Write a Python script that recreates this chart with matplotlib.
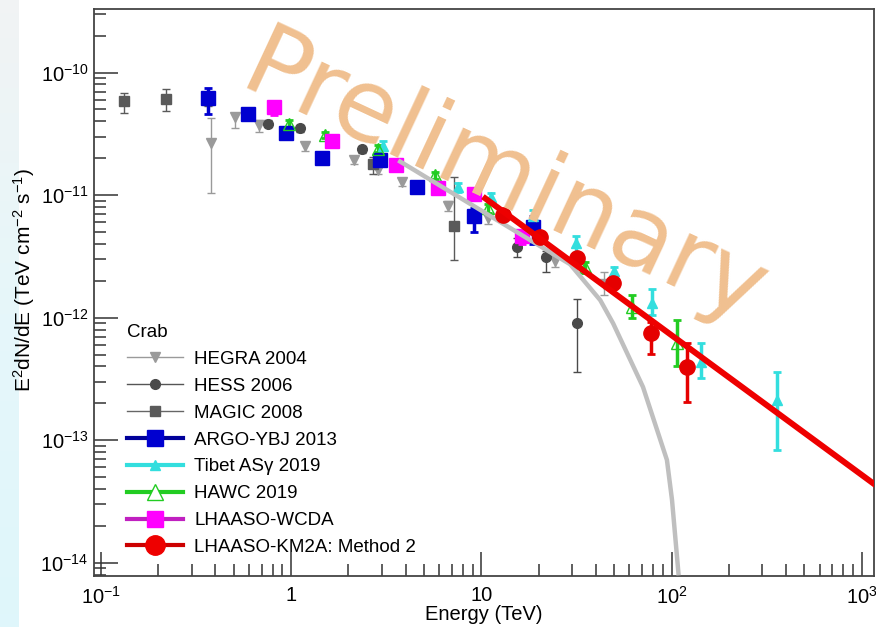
import numpy as np
import matplotlib
matplotlib.use("Agg")
from matplotlib import pyplot as plt
from matplotlib.lines import Line2D
from matplotlib.ticker import LogLocator, NullFormatter
from matplotlib.colors import LinearSegmentedColormap

plt.rcParams['font.family'] = ['Liberation Sans', 'DejaVu Sans']
plt.rcParams['mathtext.fontset'] = 'custom'
plt.rcParams['mathtext.rm'] = 'Liberation Sans'
plt.rcParams['mathtext.it'] = 'Liberation Sans:italic'

# --- data: energy (TeV), E^2dN/dE, lower / upper bound ---
hegra_e = [0.378, 0.505, 0.675, 1.19, 2.13, 2.85, 3.85, 6.7, 10.8, 24.5, 44.0]
hegra_f = [2.64e-11, 4.3e-11, 3.7e-11, 2.5e-11, 1.92e-11, 1.6e-11, 1.27e-11, 8.1e-12, 6.5e-12, 2.9e-12, 1.9e-12]
hegra_lo = [1.05e-11, 3.5e-11, 3.3e-11, 2.3e-11, 1.8e-11, 1.5e-11, 1.18e-11, 7.4e-12, 5.8e-12, 2.6e-12, 1.52e-12]
hegra_hi = [4.22e-11, 4.6e-11, 4.1e-11, 2.7e-11, 2.05e-11, 1.7e-11, 1.36e-11, 8.9e-12, 7.2e-12, 3.2e-12, 2.35e-12]

hess_e = [0.76, 1.11, 2.37, 15.4, 21.9, 31.9]
hess_f = [3.84e-11, 3.5e-11, 2.36e-11, 3.75e-12, 3.1e-12, 9.0e-13]
hess_lo = [3.6e-11, 3.3e-11, 2.2e-11, 3.1e-12, 2.35e-12, 3.6e-13]
hess_hi = [4.1e-11, 3.7e-11, 2.5e-11, 4.5e-12, 3.5e-12, 1.41e-12]

magic_e = [0.132, 0.219, 0.365, 2.68, 7.2]
magic_f = [5.9e-11, 6.1e-11, 6.0e-11, 1.81e-11, 5.6e-12]
magic_lo = [4.72e-11, 4.9e-11, 5.3e-11, 1.5e-11, 2.94e-12]
magic_hi = [6.87e-11, 7.4e-11, 6.7e-11, 2.03e-11, 1.40e-11]

argo_e = [0.365, 0.59, 0.935, 1.46, 2.95, 4.6, 9.1, 18.8]
argo_f = [6.25e-11, 4.6e-11, 3.2e-11, 2.0e-11, 1.92e-11, 1.16e-11, 6.7e-12, 5.5e-12]
argo_lo = [4.6e-11, 4.1e-11, 2.9e-11, 1.8e-11, 1.75e-11, 1.05e-11, 5.0e-12, 4.0e-12]
argo_hi = [7.5e-11, 5.0e-11, 3.5e-11, 2.2e-11, 2.1e-11, 1.28e-11, 7.9e-12, 6.8e-12]

tibet_e = [3.06, 7.57, 11.2, 18.7, 31.5, 49.9, 79.0, 143.0, 358.0]
tibet_f = [2.54e-11, 1.16e-11, 9.6e-12, 6.8e-12, 4.05e-12, 2.4e-12, 1.32e-12, 4.36e-13, 2.13e-13]
tibet_lo = [2.35e-11, 1.07e-11, 8.8e-12, 6.2e-12, 3.4e-12, 1.95e-12, 1.05e-12, 3.2e-13, 8.3e-14]
tibet_hi = [2.75e-11, 1.26e-11, 1.05e-11, 7.5e-12, 4.6e-12, 2.57e-12, 1.71e-12, 6.2e-13, 3.6e-13]

hawc_e = [0.97, 1.5, 2.85, 5.74, 10.9, 35.2, 62.0, 107.0]
hawc_f = [3.84e-11, 3.07e-11, 2.4e-11, 1.45e-11, 7.8e-12, 2.58e-12, 1.22e-12, 6.2e-13]
hawc_lo = [3.6e-11, 2.9e-11, 2.25e-11, 1.36e-11, 7.2e-12, 2.3e-12, 9.9e-13, 4.0e-13]
hawc_hi = [4.1e-11, 3.25e-11, 2.55e-11, 1.55e-11, 8.4e-12, 2.85e-12, 1.52e-12, 9.5e-13]

wcda_e = [0.81, 1.65, 3.54, 5.95, 9.1, 16.4]
wcda_f = [5.28e-11, 2.79e-11, 1.75e-11, 1.14e-11, 1.03e-11, 4.6e-12]
wcda_lo = [4.5e-11, 2.55e-11, 1.6e-11, 1.02e-11, 9.2e-12, 4.0e-12]
wcda_hi = [5.9e-11, 3.05e-11, 1.9e-11, 1.26e-11, 1.15e-11, 5.2e-12]

km2a_e = [13.0, 20.4, 31.9, 49.3, 78.0, 120.0]
km2a_f = [6.84e-12, 4.53e-12, 3.05e-12, 1.91e-12, 7.5e-13, 3.95e-13]
km2a_lo = [6.4e-12, 4.2e-12, 2.8e-12, 1.72e-12, 5.1e-13, 2.05e-13]
km2a_hi = [7.3e-12, 4.9e-12, 3.3e-12, 2.1e-12, 9.2e-13, 6.2e-13]

# fit curves
km2a_fit_e = [10.5, 1160.0]
km2a_fit_f = [9.4e-12, 4.4e-14]
curve_e = [3.66, 29.3, 42.2, 49.3, 70.8, 94.6, 100.6, 109.0]
curve_f = [1.92e-11, 2.73e-12, 1.39e-12, 9.0e-13, 2.72e-13, 6.9e-14, 3.26e-14, 7.9e-15]

xticks = [0.1, 1, 10, 100, 1000]
xticklabels = ['$10^{-1}$', '1', '10', '$10^{2}$', '$10^{3}$']
yticks = [1e-14, 1e-13, 1e-12, 1e-11, 1e-10]
yticklabels = ['$10^{-14}$', '$10^{-13}$', '$10^{-12}$', '$10^{-11}$', '$10^{-10}$']

fig = plt.figure(figsize=(8.76, 6.27), dpi=100)

# light blue strip on the left edge of the screenshot
strip = fig.add_axes([0, 0, 0.021, 1])
cmap = LinearSegmentedColormap.from_list('strip', ['#dff6fb', '#e6f7fa', '#f1f3f4'])
strip.imshow(np.linspace(0, 1, 50).reshape(-1, 1), aspect='auto', cmap=cmap, origin='lower')
strip.axis('off')

ax = fig.add_axes([0.1073, 0.0813, 0.8904, 0.9043])


def draw(e, f, lo, hi, color, marker, ms, elw, lw_cap, mfc=None, zorder=3, mec=None):
    f = np.array(f)
    yerr = [f - np.array(lo), np.array(hi) - f]
    ax.errorbar(e, f, yerr=yerr, fmt=marker, color=color, ms=ms,
                mfc=mfc if mfc else color, mec=mec if mec else color,
                ecolor=color, elinewidth=elw, capsize=3, capthick=lw_cap,
                zorder=zorder)


draw(hegra_e, hegra_f, hegra_lo, hegra_hi, '#9a9a9a', 'v', 7, 1.0, 1.0)
draw(hess_e, hess_f, hess_lo, hess_hi, '#4a4a4a', 'o', 7, 1.0, 1.0)
draw(magic_e, magic_f, magic_lo, magic_hi, '#5a5a5a', 's', 6.5, 1.0, 1.0)
draw(argo_e, argo_f, argo_lo, argo_hi, '#0000d0', 's', 10, 2.5, 2.0, zorder=4)
draw(tibet_e, tibet_f, tibet_lo, tibet_hi, '#33dede', '^', 7, 2.5, 2.0, zorder=4)
draw(hawc_e, hawc_f, hawc_lo, hawc_hi, '#22cc22', '^', 9, 2.5, 2.0, mfc='none', zorder=4)
draw(wcda_e, wcda_f, wcda_lo, wcda_hi, '#ff00ff', 's', 10, 2.5, 2.0, zorder=4)

ax.plot(curve_e, curve_f, color='#bfbfbf', lw=3.2, zorder=5, solid_capstyle='butt')
draw(km2a_e, km2a_f, km2a_lo, km2a_hi, '#e50000', 'o', 11, 2.5, 2.0, zorder=6)
ax.plot(km2a_fit_e, km2a_fit_f, color='#ee0000', lw=4.3, zorder=7)

ax.set_xscale('log')
ax.set_yscale('log')
ax.set_xlim(0.092, 1160)
ax.set_ylim(7.8e-15, 3.3e-10)

ax.set_xticks(xticks, labels=xticklabels)
ax.set_yticks(yticks, labels=yticklabels)
ax.xaxis.set_minor_locator(LogLocator(base=10, subs=np.arange(2, 10)))
ax.yaxis.set_minor_locator(LogLocator(base=10, subs=np.arange(2, 10), numticks=20))
ax.xaxis.set_minor_formatter(NullFormatter())
ax.yaxis.set_minor_formatter(NullFormatter())
ax.tick_params(which='both', direction='in', top=False, right=False, color='#333333', width=1.1)
ax.tick_params(which='major', length=17, labelsize=14.5)
ax.tick_params(which='minor', length=8.5)
ax.tick_params(axis='x', pad=7)
ax.tick_params(axis='y', pad=4)
for s in ax.spines.values():
    s.set_color('#444444')
    s.set_linewidth(1.3)

ax.set_xlabel('Energy (TeV)', fontsize=14.5, labelpad=-2)
ax.set_ylabel('E$^{2}$dN/dE (TeV cm$^{-2}$ s$^{-1}$)', fontsize=15)
ax.yaxis.set_label_coords(-0.073, 0.522)

handles = [
    Line2D([], [], color='#9a9a9a', lw=1, marker='v', ms=7),
    Line2D([], [], color='#555555', lw=1, marker='o', ms=7, mfc='#4a4a4a', mec='#4a4a4a'),
    Line2D([], [], color='#666666', lw=1, marker='s', ms=6.5, mfc='#5a5a5a', mec='#5a5a5a'),
    Line2D([], [], color='#00009a', lw=3, marker='s', ms=12, mfc='#0000d0', mec='#0000d0'),
    Line2D([], [], color='#33dede', lw=3, marker='^', ms=7),
    Line2D([], [], color='#22cc22', lw=3, marker='^', ms=11, mfc='white'),
    Line2D([], [], color='#c020c0', lw=3, marker='s', ms=12, mfc='#ff00ff', mec='#ff00ff'),
    Line2D([], [], color='#cc0000', lw=3, marker='o', ms=14, mfc='#ee0000', mec='#ee0000'),
]
labels = ['HEGRA 2004', 'HESS 2006', 'MAGIC 2008', 'ARGO-YBJ 2013',
          'Tibet AS\u03b3 2019', 'HAWC 2019', 'LHAASO-WCDA', 'LHAASO-KM2A: Method 2']
leg = ax.legend(handles, labels, title='Crab', loc='upper left',
                bbox_to_anchor=(0.03, 0.461), frameon=False, fontsize=13.5,
                title_fontsize=13.5, handlelength=3.0, handletextpad=0.6,
                labelspacing=0.52, borderpad=0, alignment='left')

# watermark
fig.text(0.575, 0.71, 'Preliminary', fontsize=72, color='#f0c090',
         family='DejaVu Sans', rotation=-25, ha='center', va='center',
         rotation_mode='anchor', zorder=20)

fig.savefig('out.png', dpi=100)
